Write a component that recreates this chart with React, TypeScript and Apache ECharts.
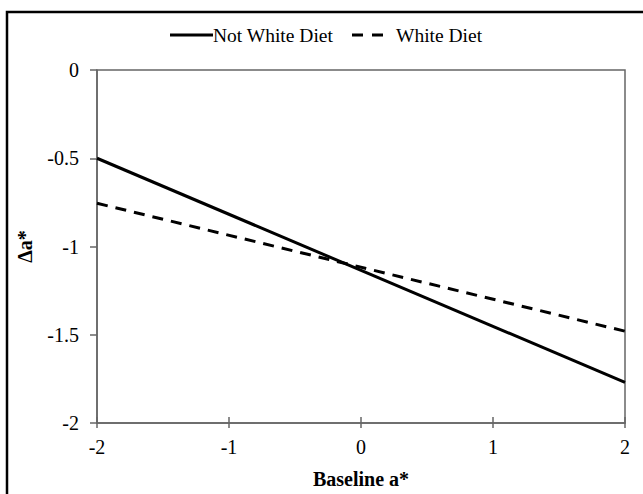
import React, { useEffect, useRef } from "react";
import * as echarts from "echarts";

const xRange = [-2, 2];
const notWhiteDiet = [-0.5, -1.77];
const whiteDiet = [-0.755, -1.48];
const seriesNames = ["Not White Diet", "White Diet"];

export default function App() {
  const ref = useRef<HTMLDivElement>(null);
  useEffect(() => {
    document.body.style.margin = "0";
    const chart = echarts.init(ref.current!, null, { renderer: "svg" });
    const font = "'Liberation Serif', 'Times New Roman', serif";
    const legendY = 35;
    chart.setOption({
      animation: false,
      backgroundColor: "#fff",
      textStyle: { fontFamily: font },
      graphic: [
        {
          type: "rect",
          shape: { x: 7, y: 12, width: 700, height: 600 },
          style: { fill: "none", stroke: "#000", lineWidth: 2.5 },
          silent: true,
        },
        {
          type: "line",
          shape: { x1: 170, y1: legendY, x2: 213, y2: legendY },
          style: { stroke: "#000", lineWidth: 3 },
        },
        {
          type: "text",
          x: 213,
          y: legendY,
          style: { text: seriesNames[0], font: `19.5px ${font}`, fill: "#000", verticalAlign: "middle" },
        },
        {
          type: "line",
          shape: { x1: 352, y1: legendY, x2: 384, y2: legendY },
          style: { stroke: "#000", lineWidth: 3, lineDash: [11, 9] },
        },
        {
          type: "text",
          x: 396,
          y: legendY,
          style: { text: seriesNames[1], font: `19.5px ${font}`, fill: "#000", verticalAlign: "middle" },
        },
      ],
      grid: { left: 97, right: 18, top: 70, bottom: 71, show: true, borderColor: "#666", borderWidth: 1.5 },
      xAxis: [
        {
          type: "value",
          min: -2,
          max: 2,
          interval: 1,
          name: "Baseline a*",
          nameLocation: "middle",
          nameGap: 46,
          nameTextStyle: { fontFamily: font, fontSize: 20, fontWeight: "bold", color: "#000" },
          axisLine: { show: true, onZero: false, lineStyle: { color: "#666", width: 1.5 } },
          axisTick: { show: true, inside: true, length: 6, lineStyle: { color: "#666", width: 1.5 } },
          axisLabel: { fontFamily: font, fontSize: 20, color: "#000", margin: 14 },
          splitLine: { show: false },
        },
        {
          type: "value",
          min: -2,
          max: 2,
          interval: 1,
          position: "bottom",
          axisLine: { show: false, onZero: false },
          axisTick: { show: true, inside: false, length: 5, lineStyle: { color: "#666", width: 1.5 } },
          axisLabel: { show: false },
          splitLine: { show: false },
        },
      ],
      yAxis: {
        type: "value",
        min: -2,
        max: 0,
        interval: 0.5,
        name: "Δa*",
        nameLocation: "middle",
        nameGap: 62,
        nameTextStyle: { fontFamily: font, fontSize: 20, fontWeight: "bold", color: "#000" },
        axisLine: { show: true, onZero: false, lineStyle: { color: "#666", width: 1.5 } },
        axisTick: { show: true, length: 7, lineStyle: { color: "#666", width: 1.5 } },
        axisLabel: { fontFamily: font, fontSize: 20, color: "#000", margin: 18 },
        splitLine: { show: false },
      },
      series: [
        {
          name: seriesNames[0],
          type: "line",
          symbol: "none",
          data: xRange.map((x, i) => [x, notWhiteDiet[i]]),
          lineStyle: { color: "#000", width: 3 },
          itemStyle: { color: "#000" },
        },
        {
          name: seriesNames[1],
          type: "line",
          symbol: "none",
          data: xRange.map((x, i) => [x, whiteDiet[i]]),
          lineStyle: { color: "#000", width: 3, type: [11, 8] },
          itemStyle: { color: "#000" },
        },
      ],
    });
    return () => chart.dispose();
  }, []);
  return <div ref={ref} style={{ width: 643, height: 494 }} />;
}
